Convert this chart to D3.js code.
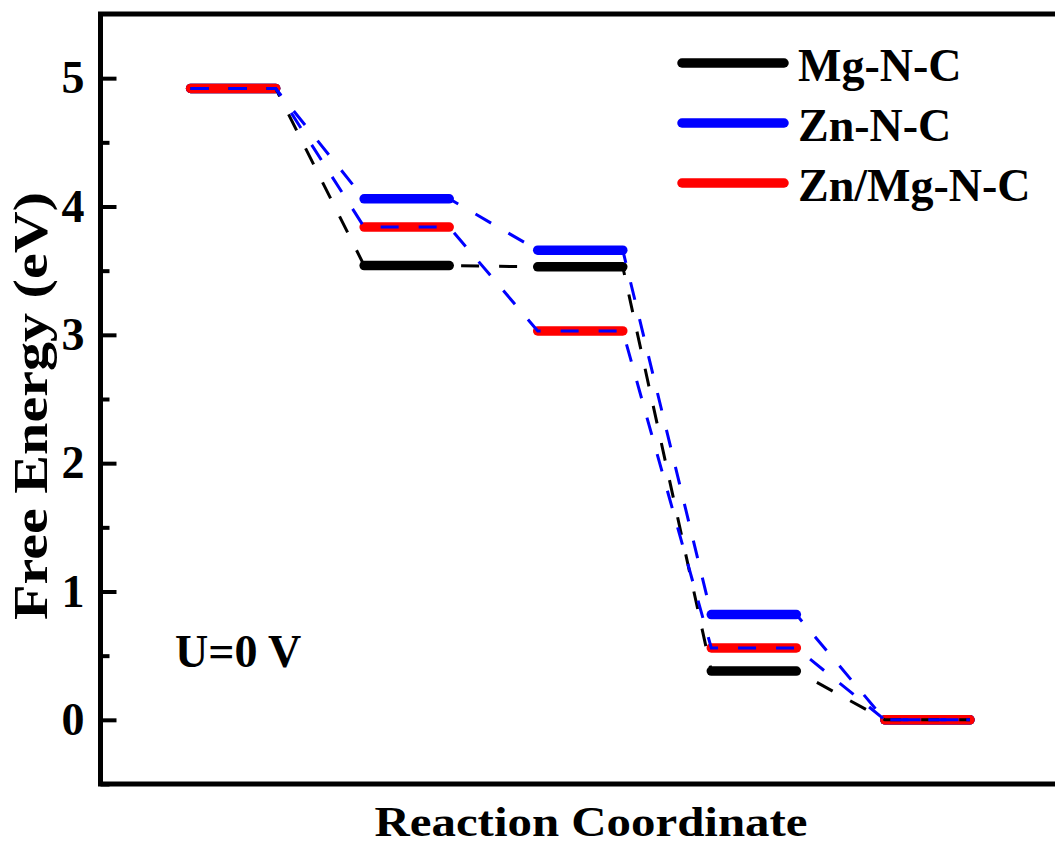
<!DOCTYPE html>
<html>
<head>
<meta charset="utf-8">
<script src="https://cdn.jsdelivr.net/npm/d3@7"></script>
<style>
  html, body { margin: 0; padding: 0; background: #fff; overflow: hidden; }
  svg { display: block; }
  text { font-family: "Liberation Serif", "Times New Roman", serif; font-weight: bold; fill: #000; }
</style>
</head>
<body>
<script>
// Reaction steps along the coordinate
const steps = [1, 2, 3, 4, 5];

// Free energy of each intermediate (eV)
const mgNC   = [4.92, 3.54, 3.53, 0.38, 0.00];
const znNC   = [4.92, 4.06, 3.66, 0.82, 0.00];
const znMgNC = [4.92, 3.84, 3.03, 0.56, 0.00];

const seriesNames = ["Mg-N-C", "Zn-N-C", "Zn/Mg-N-C"];
const barColors   = ["#000000", "#0000ff", "#ff0000"];
const dashColors  = ["#000000", "#0000ff", "#0000ff"];

const yTicks = [0, 1, 2, 3, 4, 5];
const yMinorTicks = [-0.5, 0.5, 1.5, 2.5, 3.5, 4.5];

const W = 1055, H = 847;
const frame = { left: 100.5, right: 1060, top: 14, bottom: 784 };

const svg = d3.select("body").append("svg")
  .attr("width", W).attr("height", H);

const x = d3.scaleLinear().domain([0.236, 5.764]).range([frame.left, frame.right]);
const y = d3.scaleLinear().domain([-0.5, 5.5]).range([frame.bottom, frame.top]);

const halfBar = 0.245;

const series = [mgNC, znNC, znMgNC].map((vals, i) => ({
  name: seriesNames[i],
  values: vals,
  bar: barColors[i],
  dash: dashColors[i]
}));

// Thick level bars
series.forEach(s => {
  svg.append("g").selectAll("line")
    .data(steps.map((st, j) => ({ st, v: s.values[j] })))
    .join("line")
    .attr("x1", d => x(d.st - halfBar))
    .attr("x2", d => x(d.st + halfBar))
    .attr("y1", d => y(d.v))
    .attr("y2", d => y(d.v))
    .attr("stroke", s.bar)
    .attr("stroke-width", 9.5)
    .attr("stroke-linecap", "round");
});

// Dashed path running through every level
const pathLine = d3.line().x(d => x(d[0])).y(d => y(d[1]));
series.forEach(s => {
  const pts = [];
  steps.forEach((st, j) => {
    pts.push([st - halfBar, s.values[j]]);
    pts.push([st + halfBar, s.values[j]]);
  });
  svg.append("path")
    .attr("d", pathLine(pts))
    .attr("fill", "none")
    .attr("stroke", s.dash)
    .attr("stroke-width", 3)
    .attr("stroke-dasharray", "18,20");
});

// Frame
svg.append("rect")
  .attr("x", frame.left).attr("y", frame.top)
  .attr("width", frame.right - frame.left)
  .attr("height", frame.bottom - frame.top)
  .attr("fill", "none").attr("stroke", "#000").attr("stroke-width", 5);

// Y axis ticks (inward) and labels
const yAxis = d3.axisLeft(y)
  .tickValues(yTicks)
  .tickSize(-16)
  .tickPadding(16)
  .tickFormat(d3.format("d"));
const gy = svg.append("g").attr("transform", `translate(${frame.left},0)`).call(yAxis);
gy.select(".domain").remove();
gy.selectAll(".tick line").attr("stroke", "#000").attr("stroke-width", 4);
gy.selectAll(".tick text")
  .attr("font-size", 46)
  .attr("font-family", "Liberation Serif, Times New Roman, serif")
  .attr("font-weight", "bold")
  .attr("fill", "#000");

const yMinor = d3.axisLeft(y).tickValues(yMinorTicks).tickSize(-9).tickFormat("");
const gym = svg.append("g").attr("transform", `translate(${frame.left},0)`).call(yMinor);
gym.select(".domain").remove();
gym.selectAll(".tick line").attr("stroke", "#000").attr("stroke-width", 4);

// Axis titles
svg.append("text")
  .attr("x", 591).attr("y", 836)
  .attr("text-anchor", "middle")
  .attr("font-size", 43)
  .attr("textLength", 433)
  .attr("lengthAdjust", "spacingAndGlyphs")
  .text("Reaction Coordinate");

svg.append("text")
  .attr("transform", "translate(47,406) rotate(-90)")
  .attr("text-anchor", "middle")
  .attr("font-size", 48)
  .attr("textLength", 428)
  .attr("lengthAdjust", "spacingAndGlyphs")
  .text("Free Energy (eV)");

// Potential annotation
svg.append("text")
  .attr("x", 175).attr("y", 667)
  .attr("font-size", 46)
  .text("U=0 V");

// Legend
const legend = svg.append("g");
series.forEach((s, i) => {
  const ly = 63 + i * 60;
  legend.append("line")
    .attr("x1", 682).attr("x2", 784)
    .attr("y1", ly).attr("y2", ly)
    .attr("stroke", s.bar)
    .attr("stroke-width", 9.5)
    .attr("stroke-linecap", "round");
  legend.append("text")
    .attr("x", 798).attr("y", ly + 18)
    .attr("font-size", 46)
    .text(s.name);
});
</script>
</body>
</html>
